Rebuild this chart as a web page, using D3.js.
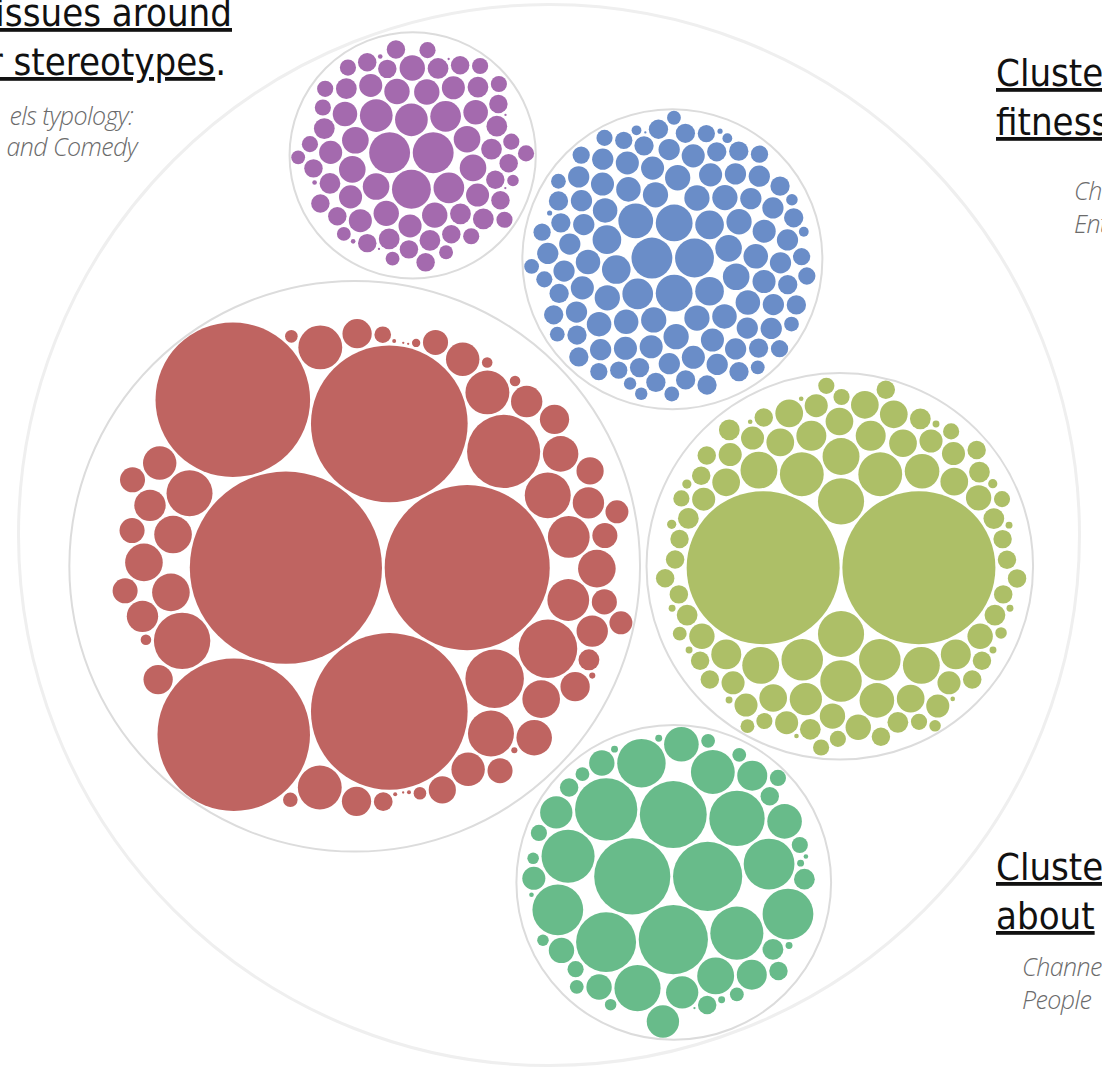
<!DOCTYPE html>
<html><head><meta charset="utf-8">
<script src="https://cdn.jsdelivr.net/npm/d3@7"></script>
<style>
html,body{margin:0;padding:0;background:#fff;overflow:hidden}
.title{font-family:"Liberation Sans Narrow","DejaVu Sans Condensed","Roboto",sans-serif;font-size:38px;fill:#111}
.title .u{text-decoration:underline}
.sub{font-family:"Open Sans","Lato",sans-serif;font-style:italic;font-weight:300;font-size:25px;fill:#6b6b6b;letter-spacing:-0.6px}
</style></head><body>
<svg id="chart" width="1102" height="1074"></svg>
<script>
// cluster names (order matches value arrays)
const clusterNames = ["gender", "fitness", "people", "blue", "purple"];

// leaf values per cluster (relative sizes)
const redValues = [6940, 5118, 4613, 4613, 4490, 4370, 1005, 643, 643, 598,
  397, 397, 397, 362, 362, 362, 328, 328, 266, 266, 266, 266, 266, 237, 237,
  210, 210, 210, 185, 185, 185, 185, 185, 161, 161, 161, 161, 161, 139, 139,
  118, 118, 118, 118, 118, 118, 118, 99, 99, 82, 66, 52, 40, 30, 30,
  21, 21, 21, 13, 7, 7, 3, 3, 3, 1, 1, 1];
const yellowValues = [4400, 4400, 400, 400, 361, 361, 324, 324, 324,
  256, 256, 256, 256, 225, 225, 196, 169, 169, 169, 169, 144,
  144, 144, 144, 144, 144, 144, 144, 144, 144, 121, 121, 121, 121, 121,
  100, 100, 100, 100, 100, 100, 100, 100, 100, 100, 100,
  81, 81, 81, 81, 81, 81, 81, 81, 81,
  64, 64, 64, 64, 64, 64, 64, 64, 64, 64, 64, 64, 64, 64, 64, 64, 64, 64,
  49, 49, 49, 49, 49, 49, 49, 49, 49, 36, 36, 25, 25, 16, 16, 16,
  9, 9, 9, 9, 9, 9, 9, 4, 4, 4, 4];
const greenValues = [1089, 900, 900, 841, 729, 676, 576, 529, 529, 484, 484, 484,
  441, 400, 361, 256, 225, 225, 196, 196, 196, 169, 169, 121, 121, 121, 100,
  81, 81, 64, 64, 64, 64, 49, 49, 49, 49, 36, 36, 36, 36, 36, 25, 25, 25,
  9, 9, 9, 9, 9, 4, 4, 1];
const blueValues = [314, 284, 255, 255, 227, 177, 154, 154, 154, 154, 133, 133,
  113, 113, 113, 113, 113, 113, 113, 113,
  120, 120, 120, 120, 120, 120, 120, 120, 120,
  100, 100, 100, 100, 100, 100, 100, 100, 100, 100, 100, 100,
  85, 85, 85, 85, 85, 85, 85, 85, 85, 85, 85, 85, 85, 85, 85, 85, 85,
  85, 85, 85, 85, 85,
  70, 70, 70, 70, 70, 70, 70, 70, 70, 70, 70, 70, 70, 70, 70, 70,
  70, 70, 70, 70, 70,
  56, 56, 56, 56, 56, 56, 56, 56, 56, 56, 49, 49, 41, 41, 41, 41, 41,
  36, 36, 29, 29, 25, 18, 18, 18, 5, 5, 1];
const purpleValues = [314, 314, 284, 201, 201, 177, 177, 133, 133, 133, 133, 133,
  113, 113, 121, 121, 121, 121, 121, 100, 100, 100, 100, 100, 100, 100,
  81, 81, 81, 81, 81, 81, 81, 81, 81, 81, 81,
  64, 64, 64, 64, 64, 64, 64, 64, 64, 64, 64, 64, 64, 64, 64,
  49, 49, 49, 49, 49, 49, 49, 49, 49, 49, 49, 36, 36, 36, 36, 25, 4, 4, 4, 1, 1, 1, 1];

// labels (partly outside the visible area in the picture)
const labelTopLeft = ["issues around", "r stereotypes"];
const subTopLeft = ["els typology:", "and Comedy"];
const labelTopRight = ["Cluster", "fitness"];
const subTopRight = ["Channels", "Entertainment"];
const labelBottomRight = ["Cluster", "about"];
const subBottomRight = ["Channels", "People"];

const colors = ["#bf6461", "#adbf67", "#68bb8a", "#6a8dc8", "#a46aae"];
const clusterValues = [redValues, yellowValues, greenValues, blueValues, purpleValues];

const svg = d3.select("#chart");
const R = 532, cx = 549, cy = 535;

const data = {
  name: "root",
  children: clusterNames.map((n, i) => ({
    name: n, idx: i,
    children: clusterValues[i].map(v => ({ value: v, idx: i }))
  }))
};

const root = d3.hierarchy(data)
  .sum(d => d.value || 0)
  .sort((a, b) => b.value - a.value);

d3.pack().size([2 * R, 2 * R]).padding(d => d.depth === 0 ? 5 : 3)(root);

const g = svg.append("g").attr("transform", `translate(${cx - R},${cy - R})`);

g.append("circle")
  .attr("cx", root.x).attr("cy", root.y).attr("r", root.r - 1.5)
  .attr("fill", "none").attr("stroke", "#efefef").attr("stroke-width", 3);

g.selectAll("circle.cluster").data(root.children).join("circle")
  .attr("class", "cluster")
  .attr("cx", d => d.x).attr("cy", d => d.y).attr("r", d => d.r - 1)
  .attr("fill", "#fff").attr("stroke", "#dcdcdc").attr("stroke-width", 2);

g.selectAll("circle.leaf").data(root.leaves()).join("circle")
  .attr("class", "leaf")
  .attr("cx", d => d.x).attr("cy", d => d.y).attr("r", d => d.r)
  .attr("fill", d => colors[d.data.idx]);

// Labels
function titleBlock(lines, x, y0, dy, anchor, period) {
  const t = svg.append("text").attr("class", "title").attr("text-anchor", anchor);
  lines.forEach((l, i) => {
    const tx = t.append("tspan").attr("x", x - (period && i === lines.length - 1 ? 6 : 0)).attr("y", y0 + i * dy);
    tx.append("tspan").attr("class", "u").text(l);
    if (period && i === lines.length - 1) t.append("tspan").text(".");
  });
}
function subBlock(lines, xs, y0, dy, anchor) {
  const t = svg.append("text").attr("class", "sub").attr("text-anchor", anchor);
  lines.forEach((l, i) => t.append("tspan").attr("x", xs[i]).attr("y", y0 + i * dy).text(l));
}

titleBlock(labelTopLeft, 232, 26, 49, "end", true);
subBlock(subTopLeft, [133, 137], 125, 31, "end");
titleBlock(labelTopRight, 996, 86, 49, "start", false);
subBlock(subTopRight, [1074, 1074], 200, 33, "start");
titleBlock(labelBottomRight, 996, 880, 49, "start", false);
subBlock(subBottomRight, [1022, 1022], 976, 33, "start");
</script>
</body></html>
